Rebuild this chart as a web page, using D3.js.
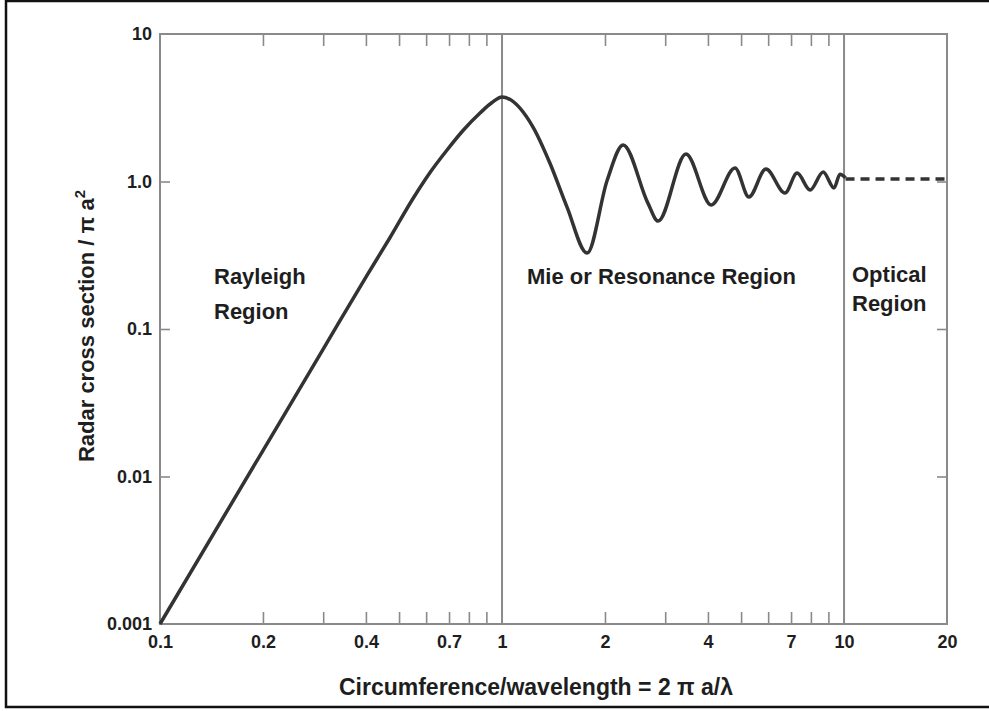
<!DOCTYPE html>
<html><head><meta charset="utf-8">
<script src="https://cdn.jsdelivr.net/npm/d3@7"></script>
<style>body{margin:0;background:#fff}text{font-family:"Liberation Sans",Arial,sans-serif;font-weight:bold;fill:#1e1e1e}</style>
</head><body>
<svg id="c" width="989" height="711"></svg>
<script>
// ---- data ----
const curveX = [0.1, 0.2, 0.3, 0.4, 0.4706, 0.5493, 0.616, 0.6907, 0.7691, 0.8624, 0.935, 1.0, 1.232, 1.38, 1.549, 1.773, 2.03, 2.26, 2.67, 2.86, 3.45, 4.09, 4.80, 5.27, 5.91, 6.72, 7.29, 7.96, 8.69, 9.35, 9.73, 10.1];
const curveY = [0.001, 0.015, 0.073, 0.225, 0.4173, 0.7668, 1.151, 1.635, 2.217, 2.913, 3.432, 3.74, 2.34, 1.335, 0.671, 0.327, 1.02, 1.77, 0.714, 0.539, 1.535, 0.693, 1.235, 0.785, 1.216, 0.836, 1.14, 0.875, 1.16, 0.904, 1.12, 1.06];
const opticalX = [10.1, 20];
const opticalY = [1.04, 1.04];
const xLabelValues = [0.1, 0.2, 0.4, 0.7, 1, 2, 4, 7, 10, 20];
const xLabelTexts = ["0.1", "0.2", "0.4", "0.7", "1", "2", "4", "7", "10", "20"];
const xMinorTicks = [0.2, 0.3, 0.4, 0.5, 0.6, 0.7, 0.8, 0.9, 2, 3, 4, 5, 6, 7, 8, 9];
const yTickValues = [10, 1, 0.1, 0.01, 0.001];
const yTickTexts = ["10", "1.0", "0.1", "0.01", "0.001"];
const regionBounds = [1, 10];

// ---- drawing ----
const svg = d3.select("#c");
const L = 160, R = 947, T = 34, B = 624;
const x = d3.scaleLog().domain([0.1, 20]).range([L, R]);
const y = d3.scaleLog().domain([0.001, 10]).range([B, T]);
const gray = "#8a8a8a";

// outer frame
svg.append("path").attr("d", `M989,1 H6 V707 H989`).attr("fill", "none").attr("stroke", "#111").attr("stroke-width", 2.5);

// ticks
const bx = svg.append("g").attr("transform", `translate(0,${B})`)
  .call(d3.axisBottom(x).tickValues(xMinorTicks).tickSize(-12).tickFormat(""));
const tx = svg.append("g").attr("transform", `translate(0,${T})`)
  .call(d3.axisTop(x).tickValues(xMinorTicks).tickSize(-12).tickFormat(""));
const ly = svg.append("g").attr("transform", `translate(${L},0)`)
  .call(d3.axisLeft(y).tickValues(yTickValues.slice(1, 4)).tickSize(-10).tickFormat(""));
const ry = svg.append("g").attr("transform", `translate(${R},0)`)
  .call(d3.axisRight(y).tickValues(yTickValues.slice(1, 4)).tickSize(-10).tickFormat(""));
[bx, tx, ly, ry].forEach(g => {
  g.select(".domain").remove();
  g.selectAll("line").attr("stroke", gray).attr("stroke-width", 1.6);
});

// labels
const xl = svg.append("g").attr("transform", `translate(0,${B})`)
  .call(d3.axisBottom(x).tickValues(xLabelValues).tickSize(0).tickPadding(11)
    .tickFormat((d, i) => xLabelTexts[i]));
const yl = svg.append("g").attr("transform", `translate(${L},0)`)
  .call(d3.axisLeft(y).tickValues(yTickValues).tickSize(0).tickPadding(8)
    .tickFormat((d, i) => yTickTexts[i]));
[xl, yl].forEach(g => {
  g.select(".domain").remove();
  g.selectAll("text").attr("font-size", 18).attr("font-family", "Liberation Sans, Arial, sans-serif").attr("font-weight", "bold").attr("fill", "#1e1e1e");
});

// plot frame
svg.append("rect").attr("x", L).attr("y", T).attr("width", R - L).attr("height", B - T)
  .attr("fill", "none").attr("stroke", gray).attr("stroke-width", 2);
svg.selectAll(".region").data(regionBounds).enter().append("line")
  .attr("x1", d => x(d)).attr("x2", d => x(d)).attr("y1", T).attr("y2", B)
  .attr("stroke", gray).attr("stroke-width", 2);

// curve
const line = d3.line().x(d => x(d[0])).y(d => y(d[1])).curve(d3.curveMonotoneX);
svg.append("path").datum(curveX.map((v, i) => [v, curveY[i]]))
  .attr("d", line).attr("fill", "none").attr("stroke", "#333").attr("stroke-width", 3.5)
  .attr("stroke-linejoin", "round");
svg.append("path").datum(opticalX.map((v, i) => [v, opticalY[i]]))
  .attr("d", d3.line().x(d => x(d[0])).y(d => y(d[1])))
  .attr("fill", "none").attr("stroke", "#333").attr("stroke-width", 3.5)
  .attr("stroke-dasharray", "9,6");

// region texts
const fs = 22;
function txt(tx_, ty, s) {
  svg.append("text").attr("x", tx_).attr("y", ty).attr("font-size", fs).text(s);
}
txt(214, 284, "Rayleigh");
txt(214, 319, "Region");
txt(527, 284, "Mie or Resonance Region");
txt(852, 282, "Optical");
txt(852, 311, "Region");

// axis titles
svg.append("text").attr("x", 536).attr("y", 695).attr("font-size", 23).attr("text-anchor", "middle")
  .text("Circumference/wavelength = 2 \u03c0 a/\u03bb");
const yt = svg.append("text").attr("transform", "translate(94,326) rotate(-90)")
  .attr("font-size", 22).attr("text-anchor", "middle");
yt.append("tspan").text("Radar cross section / \u03c0 a");
yt.append("tspan").attr("font-size", 15).attr("dy", -9).text("2");
</script>
</body></html>
